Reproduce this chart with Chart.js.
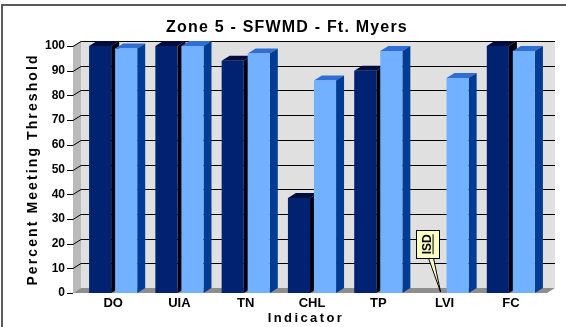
<!DOCTYPE html>
<html>
<head>
<meta charset="utf-8">
<script src="https://cdn.jsdelivr.net/npm/chart.js@4.4.1/dist/chart.umd.min.js"></script>
<style>
    html, body { margin: 0; padding: 0; background: #fff; }
    canvas { display: block; }
</style>
</head>
<body>
<canvas id="myChart" width="566" height="327"></canvas>
<script>
var indicators = ["DO", "UIA", "TN", "CHL", "TP", "LVI", "FC"];
var darkSeries = [100, 100, 94, 38.5, 90, null, 100];
var lightSeries = [99, 100, 97, 86, 98, 87, 98];
var yTicks = [0, 10, 20, 30, 40, 50, 60, 70, 80, 90, 100];
var noteText = "ISD";
var noteIndex = 5;

// front / top / side colours of each series
var darkFaces = ["#012270", "#000c3e", "#00000e"];
var lightFaces = ["#72b1ff", "#2f6fd4", "#003b94"];

// depth of the fake 3d box
var DX = 8, DY = -5;
var FONT = 'Arial, "Liberation Sans", sans-serif';

function face(ctx, pts, color) {
    ctx.beginPath();
    ctx.moveTo(pts[0][0], pts[0][1]);
    for (var i = 1; i < pts.length; i++) ctx.lineTo(pts[i][0], pts[i][1]);
    ctx.closePath();
    ctx.fillStyle = color;
    ctx.fill();
}

var depthPlugin = {
    id: 'depth',
    beforeDraw: function (chart) {
        var ctx = chart.ctx;
        ctx.save();
        ctx.fillStyle = '#fff';
        ctx.fillRect(0, 0, chart.width, chart.height);
        ctx.strokeStyle = '#5a5a5a';
        ctx.lineWidth = 2;
        ctx.beginPath();
        ctx.moveTo(2, chart.height);
        ctx.lineTo(2, 5);
        ctx.lineTo(chart.width, 5);
        ctx.stroke();
        ctx.restore();
    },
    beforeDatasetsDraw: function (chart) {
        var ctx = chart.ctx, area = chart.chartArea, y = chart.scales.y;
        var l = area.left - 7, r = area.right + 3;
        var t = y.getPixelForValue(100), b = y.getPixelForValue(0);
        ctx.save();
        // walls and floor
        face(ctx, [[l + DX, t + DY], [r + DX, t + DY], [r + DX, b + DY], [l + DX, b + DY]], '#e0e0e0');
        face(ctx, [[l, t], [l + DX, t + DY], [l + DX, b + DY], [l, b]], '#bababa');
        face(ctx, [[l, b], [l + DX, b + DY], [r + DX, b + DY], [r, b]], '#8e8e8e');

        // grid lines wrap from the tick, over the side wall, across the back
        ctx.strokeStyle = '#000';
        ctx.lineWidth = 1;
        yTicks.forEach(function (v) {
            var py = Math.round(y.getPixelForValue(v)) + 0.5;
            ctx.beginPath();
            ctx.moveTo(l - 6, py);
            ctx.lineTo(l, py);
            if (v > 0) {
                ctx.lineTo(l + DX, py + DY);
                ctx.lineTo(r + DX, py + DY);
            }
            ctx.stroke();
        });

        // top and side faces sit behind the front faces the bars draw
        [darkFaces, lightFaces].forEach(function (cols, i) {
            var meta = chart.getDatasetMeta(i);
            var vals = chart.data.datasets[i].data;
            meta.data.forEach(function (bar, j) {
                if (vals[j] == null) return;
                var x0 = bar.x - bar.width / 2, x1 = bar.x + bar.width / 2;
                face(ctx, [[x0, bar.y], [x0 + DX, bar.y + DY], [x1 + DX, bar.y + DY], [x1, bar.y]], cols[1]);
                face(ctx, [[x1, bar.y], [x1 + DX, bar.y + DY], [x1 + DX, bar.base + DY], [x1, bar.base]], cols[2]);
            });
        });
        ctx.restore();
    },
    afterDatasetsDraw: function (chart) {
        var ctx = chart.ctx, area = chart.chartArea, y = chart.scales.y;
        var bar = chart.getDatasetMeta(0).data[noteIndex];
        var cx = bar.x - 4, w = 23;
        var top = y.getPixelForValue(25.5), bot = y.getPixelForValue(14);
        ctx.save();

        // callout for the missing value
        ctx.fillStyle = '#ffffc4';
        ctx.strokeStyle = '#000';
        ctx.lineWidth = 1;
        ctx.beginPath();
        ctx.moveTo(cx + 1, bot);
        ctx.lineTo(bar.x + 9, y.getPixelForValue(0) - 1);
        ctx.lineTo(cx + 6, bot);
        ctx.closePath();
        ctx.fill();
        ctx.stroke();
        ctx.fillRect(cx - w / 2, top, w, bot - top);
        ctx.strokeRect(Math.round(cx - w / 2) + 0.5, Math.round(top) + 0.5, w, Math.round(bot - top));

        ctx.translate(cx, (top + bot) / 2);
        ctx.rotate(-Math.PI / 2);
        ctx.font = 'bold 12px ' + FONT;
        ctx.fillStyle = '#000';
        ctx.textAlign = 'center';
        ctx.textBaseline = 'middle';
        ctx.fillText(noteText, 0, 0);
        var tw = ctx.measureText(noteText).width;
        ctx.fillRect(-tw / 2, 5, tw, 1);
        ctx.restore();

        ctx.save();
        ctx.fillStyle = '#000';
        ctx.textAlign = 'center';
        ctx.textBaseline = 'middle';
        // chart title
        ctx.font = 'bold 16px ' + FONT;
        ctx.letterSpacing = '1.2px';
        ctx.fillText('Zone 5 - SFWMD - Ft. Myers', 287, 28);
        // axis titles, spaced out
        ctx.font = 'bold 13px ' + FONT;
        ctx.letterSpacing = '2.4px';
        ctx.fillText('Indicator', (area.left + area.right) / 2 - 6, 318);
        ctx.font = 'bold 14px ' + FONT;
        ctx.letterSpacing = '2.1px';
        ctx.translate(33, (area.top + area.bottom) / 2);
        ctx.rotate(-Math.PI / 2);
        ctx.fillText('Percent Meeting Threshold', 0, 0);
        ctx.restore();
    }
};

new Chart(document.getElementById("myChart"), {
    type: 'bar',
    data: {
        labels: indicators,
        datasets: [{
            data: darkSeries,
            backgroundColor: darkFaces[0],
            categoryPercentage: 0.785,
            barPercentage: 0.85
        }, {
            data: lightSeries,
            backgroundColor: lightFaces[0],
            categoryPercentage: 0.785,
            barPercentage: 0.85
        }]
    },
    options: {
        responsive: false,
        animation: false,
        layout: {
            padding: { left: 30, right: 22, top: 46, bottom: 0 }
        },
        plugins: {
            legend: { display: false },
            tooltip: { enabled: false },
            title: { display: false }
        },
        scales: {
            x: {
                grid: { display: false, drawTicks: false },
                border: { display: false },
                ticks: {
                    color: '#000',
                    padding: 3,
                    font: { family: FONT, size: 13, weight: 'bold' }
                },
                afterFit: function (scale) { scale.height = 34; }
            },
            y: {
                min: 0,
                max: 100,
                grid: { display: false, drawTicks: false },
                border: { display: false },
                ticks: {
                    stepSize: 10,
                    color: '#000',
                    padding: 15,
                    font: { family: FONT, size: 12, weight: 'bold' }
                },
                afterFit: function (scale) { scale.width = 50; }
            }
        }
    },
    plugins: [depthPlugin]
});
</script>
</body>
</html>
